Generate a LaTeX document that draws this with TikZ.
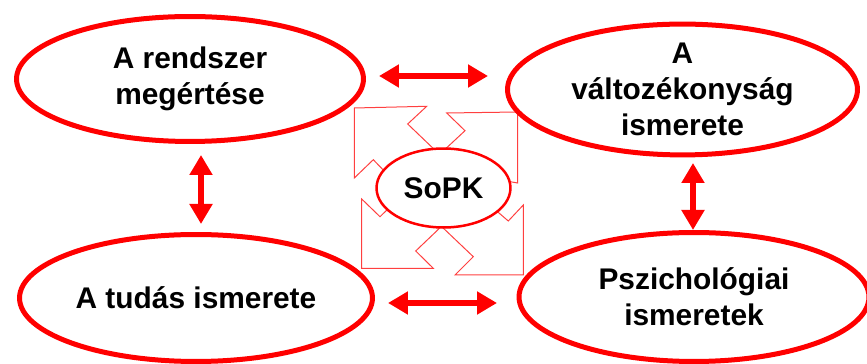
\documentclass[tikz,border=0pt]{standalone}
\usepackage{fontspec}
\setmainfont{Liberation Sans}
\usetikzlibrary{shapes.geometric,arrows.meta}

\begin{document}
\begin{tikzpicture}[x=0.02cm,y=-0.02cm,
        bigell/.style={ellipse,draw=red,line width=0.1cm,fill=white,inner sep=0pt,
            align=center,font=\fontsize{17pt}{20.4pt}\selectfont\bfseries},
        hollow/.style={draw=red!75,line width=0.02cm},
        dblarrow/.style={red,line width=0.13cm,
            {Triangle[length=0.4cm,width=0.44cm]}-{Triangle[length=0.4cm,width=0.44cm]}}]
        \useasboundingbox (0,0) rectangle (867,364);
        \draw[hollow] (354.3,108) -- (426.7,106.3) -- (407.7,124) -- (431,146.3) -- (440,155) -- (390,177) -- (373.3,159.7) -- (354.3,178) -- cycle;
        \draw[hollow] (446.7,113) -- (517.7,112) -- (517.7,183) -- (500,180) -- (442,152) -- (450,144.7) -- (465,130.7) -- cycle;
        \draw[hollow] (361.7,199) -- (361.7,268.3) -- (433.3,268.3) -- (415.7,251) -- (437.7,230) -- (443,224) -- (392,205) -- (380,216.7) -- cycle;
        \draw[hollow] (523.3,205) -- (523.3,275) -- (455,275) -- (473.3,256.7) -- (440,225) -- (492,207) -- (508.3,221) -- cycle;
        \node[bigell,minimum width=6.94cm,minimum height=2.5cm] (rendszer) at (190,79) {A rendszer\\megértése};
        \node[bigell,minimum width=7cm,minimum height=2.6cm] (valtozekony) at (682.5,89.5) {A\\változékonyság\\ismerete};
        \node[bigell,minimum width=7.06cm,minimum height=2.54cm] (tudas) at (196,298) {A tudás ismerete};
        \node[bigell,minimum width=7cm,minimum height=2.58cm] (pszich) at (694,297) {Pszichológiai\\ismeretek};
        \node[bigell,line width=0.05cm,minimum width=2.68cm,minimum height=1.58cm] (sopk) at (443.5,188) {SoPK};
        \coordinate (ta) at (379,76);
        \coordinate (tb) at (488,76);
        \coordinate (ba) at (388,303);
        \coordinate (bb) at (497,303);
        \coordinate (la) at (201,155);
        \coordinate (lb) at (201,224);
        \coordinate (ra) at (693,163);
        \coordinate (rb) at (693,230);
        \draw[dblarrow] (ta) -- (tb);
        \draw[dblarrow] (ba) -- (bb);
        \draw[dblarrow] (la) -- (lb);
        \draw[dblarrow] (ra) -- (rb);
    \end{tikzpicture}
\end{document}
